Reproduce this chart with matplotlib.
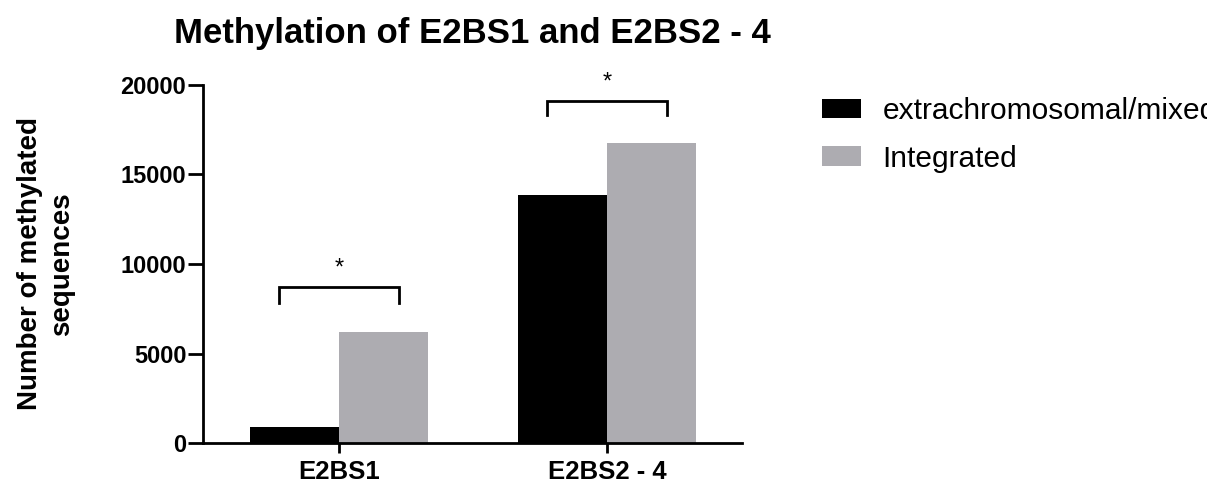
import matplotlib.pyplot as plt
import numpy as np

# Data
categories = ['E2BS1', 'E2BS2 - 4']
extrachromosomal = [900, 13860]
integrated = [6200, 16760]
series_labels = ['extrachromosomal/mixed', 'Integrated']

# significance brackets: (centre category, bracket top, leg bottom)
brackets = [(0, 8700, 7820), (1, 19100, 18320)]

plt.rcParams['font.family'] = ['Liberation Sans', 'DejaVu Sans']

fig = plt.figure(figsize=(12.07, 4.84), dpi=100)
ax = fig.add_axes([0.1682, 0.0847, 0.4466, 0.7397])

x = np.arange(len(categories))
width = 0.332
ax.bar(x - width / 2, extrachromosomal, width, color='black', label=series_labels[0])
ax.bar(x + width / 2, integrated, width, color='#adacb1', label=series_labels[1])

# Brackets with stars
for cx, top, bottom in brackets:
    ax.plot([cx - 0.225, cx - 0.225, cx + 0.225, cx + 0.225],
            [bottom, top, top, bottom], color='black', lw=2.0,
            solid_joinstyle='miter', clip_on=False)
    ax.text(cx, top + 450, '*', ha='center', va='bottom', fontsize=17)

ax.set_xlim(-0.507, 1.504)
ax.set_ylim(0, 20000)
ax.set_yticks([0, 5000, 10000, 15000, 20000])
ax.set_xticks(x)
ax.set_xticklabels(categories, fontsize=18.5, fontweight='bold')
for lbl in ax.get_yticklabels():
    lbl.set_fontsize(17)
    lbl.set_fontweight('bold')

for side in ['top', 'right']:
    ax.spines[side].set_visible(False)
for side in ['left', 'bottom']:
    ax.spines[side].set_linewidth(2.0)
ax.tick_params(axis='y', width=2.0, length=11, pad=1)
ax.tick_params(axis='x', width=2.0, length=7.5, pad=5)

ax.set_ylabel('Number of methylated\nsequences', fontsize=20, fontweight='bold',
              labelpad=33, linespacing=1.3)
ax.set_title('Methylation of E2BS1 and E2BS2 - 4', fontsize=25,
             fontweight='bold', pad=30)

ax.legend(loc='upper left', bbox_to_anchor=(822 / 1207, 1 - 97 / 484),
          bbox_transform=fig.transFigure, frameon=False, fontsize=21.5,
          borderpad=0, borderaxespad=0,
          handlelength=1.3, handleheight=0.64, handletextpad=0.73,
          labelspacing=0.66)

plt.savefig('out.png', dpi=100)
